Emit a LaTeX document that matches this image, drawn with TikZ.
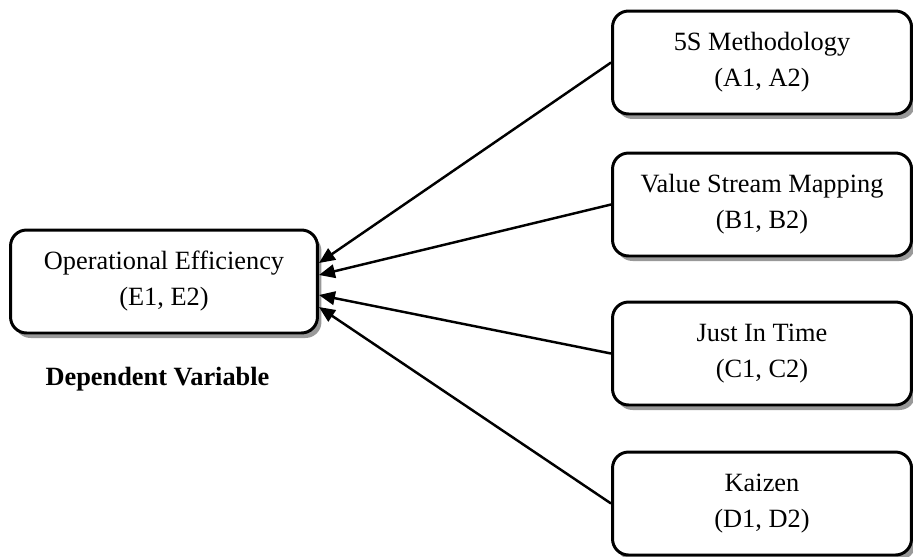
\documentclass[tikz,border=0pt]{standalone}
\usepackage{fontspec}
\setmainfont{Liberation Serif}
\usetikzlibrary{arrows.meta,shadows}

\begin{document}
\begin{tikzpicture}[x=0.02cm,y=-0.02cm,
	varbox/.style={draw,line width=1.7pt,rounded corners=0.32cm,fill=white,
		minimum height=2.06cm,align=center,
		font=\fontsize{15}{20.5}\selectfont,
		drop shadow={shadow xshift=0.08cm,shadow yshift=-0.1cm,fill=black,opacity=0.4}},
	link/.style={line width=1.4pt,-{Triangle[length=0.32cm,width=0.27cm]}}]
	\useasboundingbox (0,0) rectangle (913,556);

	%variable dependante
	\node [varbox,minimum width=6.14cm] (oe) at (164,281.5) {Operational Efficiency\\(E1, E2)};
	\node [font=\fontsize{15}{18}\selectfont\bfseries] (dv) at (157.5,379.5) {Dependent Variable};

	%variables independantes
	\node [varbox,minimum width=5.98cm] (fives) at (762,62.5) {5S Methodology\\(A1, A2)};
	\node [varbox,minimum width=5.98cm] (vsm) at (762,204.5) {Value Stream Mapping\\(B1, B2)};
	\node [varbox,minimum width=5.98cm] (jit) at (762,353.5) {Just In Time\\(C1, C2)};
	\node [varbox,minimum width=5.98cm] (kaizen) at (762,503.5) {Kaizen\\(D1, D2)};

	%fleches
	\draw [link] (fives.west) -- ([yshift=0.37cm]oe.east);
	\draw [link] (vsm.west) -- ([yshift=0.13cm]oe.east);
	\draw [link] (jit.west) -- ([yshift=-0.27cm]oe.east);
	\draw [link] (kaizen.west) -- ([yshift=-0.51cm]oe.east);
\end{tikzpicture}
\end{document}
